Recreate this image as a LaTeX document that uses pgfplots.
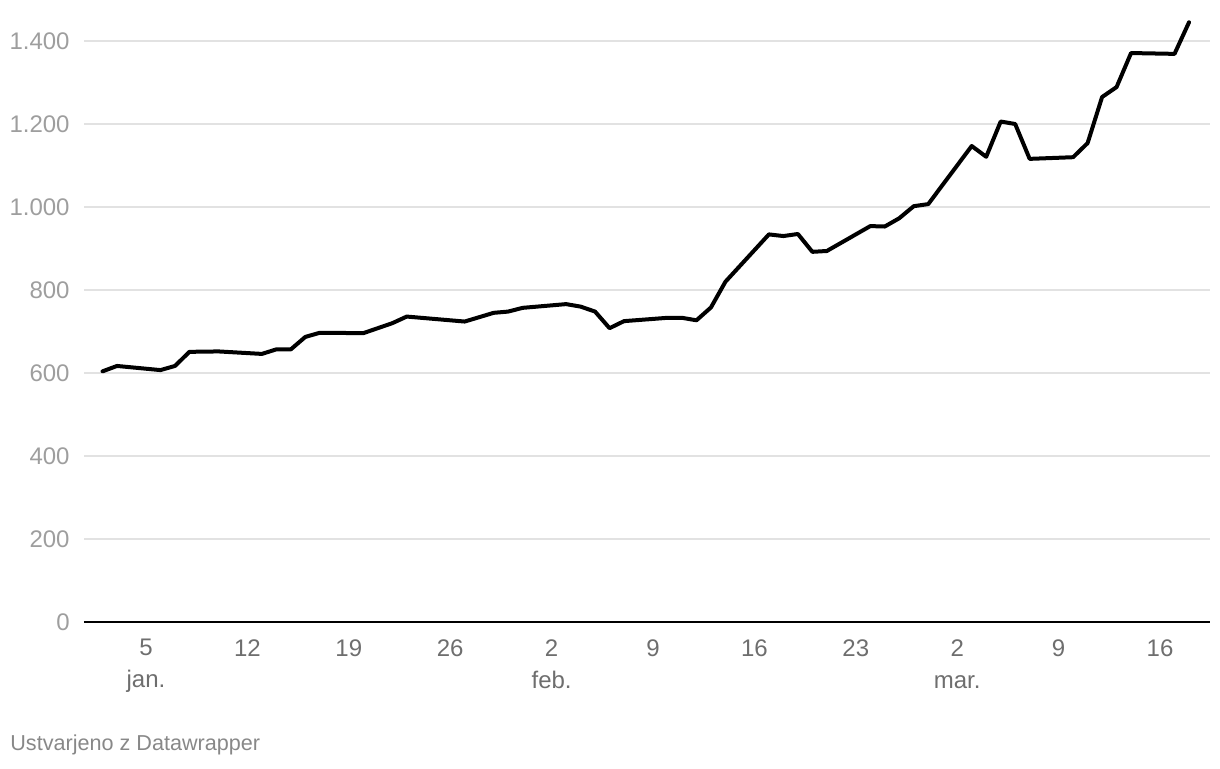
\documentclass[border=0pt]{standalone}
\usepackage{pgfplots}
\pgfplotsset{compat=1.18}
\usepackage{fontspec}
\setmainfont{Liberation Sans}
\definecolor{ylab}{HTML}{9E9E9E}
\definecolor{xlab}{HTML}{6E6E6E}
\definecolor{gridc}{HTML}{E2E2E2}
\definecolor{foot}{HTML}{888888}
\begin{document}
\begin{tikzpicture}
\begin{axis}[
  at={(0,0)}, anchor=south west,
  scale only axis, width=563pt, height=302.95pt,
  xmin=-0.28, xmax=77.45, ymin=0, ymax=1460,
  clip=false,
  axis line style={draw=none},
  major tick length=0pt, tick style={draw=none},
  ymajorgrids, grid style={gridc, line width=0.7pt},
  ytick={200,400,...,1400},
  yticklabels={200,400,600,800,{1.000},{1.200},{1.400}},
  extra y ticks={0}, extra y tick labels={0},
  extra y tick style={grid style={black, line width=1.2pt}},
  xtick={4,11,...,74},
  xticklabels={{5\\jan.},12,19,26,{2\\feb.},9,16,23,{2\\mar.},9,16},
  xticklabel style={align=center, font=\fontsize{12}{16}\selectfont, text=xlab, anchor=north, inner sep=0pt, yshift=-8.5pt},
  yticklabel style={font=\fontsize{12}{14}\selectfont, text=ylab, anchor=east, inner sep=0pt, xshift=-7pt},
]
\addplot[black, line width=2pt, line join=round, line cap=round, mark=none] coordinates {
(1,604) (2,617) (5,607) (6,617) (7,651) (9,652) (12,646) (13,657) (14,657)
(15,687) (16,697) (19,696) (21,720) (22,736) (26,724) (28,745) (29,748)
(30,757) (33,766) (34,760) (35,748) (36,708) (37,725) (40,733) (41,733)
(42,727) (43,758) (44,820) (47,934) (48,930) (49,935) (50,892) (51,894)
(54,954) (55,953) (56,973) (57,1002) (58,1007) (61,1147) (62,1121)
(63,1206) (64,1200) (65,1116) (68,1120) (69,1154) (70,1265) (71,1289)
(72,1371) (75,1369) (76,1445)
};
\end{axis}
\node[anchor=west, inner sep=0pt, font=\fontsize{10.8}{12}\selectfont, text=foot] at (-37pt,-61.5pt) {Ustvarjeno z Datawrapper};
\pgfresetboundingbox
\useasboundingbox (-42pt,-73pt) rectangle (568pt,311pt);
\end{tikzpicture}
\end{document}
